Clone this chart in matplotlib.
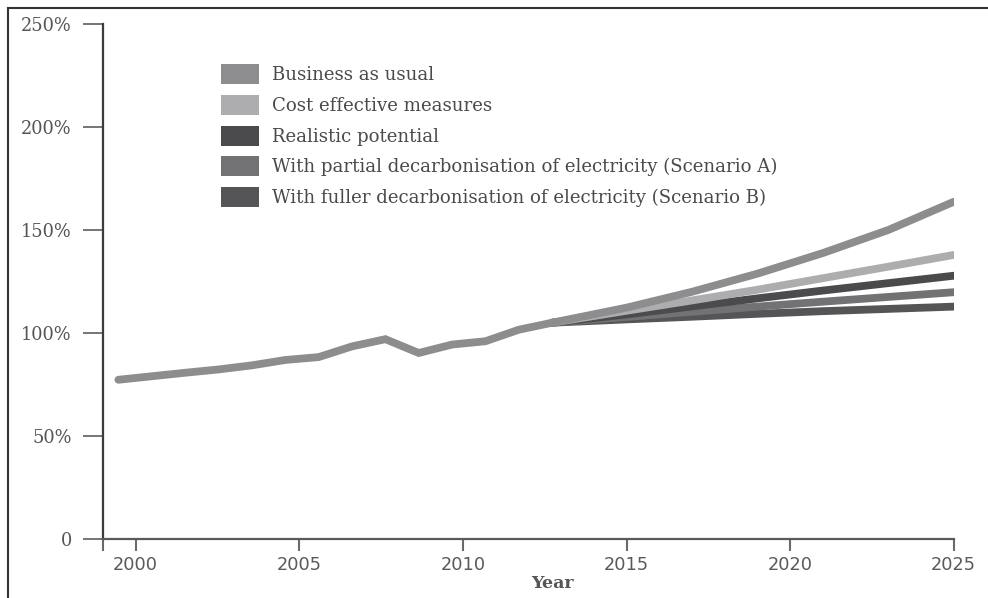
import matplotlib
matplotlib.use("Agg")
import matplotlib.pyplot as plt
from matplotlib.patches import Patch
from matplotlib.lines import Line2D

# ---- data ----
hist_years = [1999.47, 2000.49, 2001.51, 2002.53, 2003.55, 2004.57, 2005.59,
              2006.61, 2007.63, 2008.65, 2009.67, 2010.69, 2011.71, 2012.73]
hist_values = [77.3, 79.0, 80.7, 82.3, 84.3, 86.9, 88.3,
               93.5, 97.0, 90.3, 94.4, 96.0, 101.6, 105.0]

proj_years = [2012.73, 2015, 2017, 2019, 2021, 2023, 2025]
bau = [105.0, 112.3, 120.0, 128.8, 138.8, 150.0, 163.7]
cost_effective = [105.0, 110.8, 115.8, 121.0, 126.6, 132.2, 137.9]
realistic = [105.0, 109.0, 112.9, 116.8, 120.6, 124.2, 127.8]
partial = [105.0, 107.8, 110.3, 112.8, 115.2, 117.5, 119.8]
fuller = [105.0, 106.6, 107.9, 109.3, 110.6, 111.7, 112.8]

series_labels = ["Business as usual",
                 "Cost effective measures",
                 "Realistic potential",
                 "With partial decarbonisation of electricity (Scenario A)",
                 "With fuller decarbonisation of electricity (Scenario B)"]
series_colors = ["#8d8d8f", "#adadaf", "#4b4b4d", "#727274", "#555557"]

y_ticks = [0, 50, 100, 150, 200, 250]
y_ticklabels = ["0", "50%", "100%", "150%", "200%", "250%"]
x_ticks = [2000, 2005, 2010, 2015, 2020, 2025]
x_ticklabels = ["2000", "2005", "2010", "2015", "2020", "2025"]

# ---- figure ----
fig = plt.figure(figsize=(9.88, 5.98), dpi=100)
ax = fig.add_axes([103 / 988, 1 - 539 / 598, (953.7 - 103) / 988, (539 - 24) / 598])

lw = 5.6
proj_series = [bau, cost_effective, realistic, partial, fuller]
order = [4, 3, 2, 1, 0]
for i in order:
    ax.plot(proj_years, proj_series[i], color=series_colors[i], lw=lw,
            solid_capstyle="round", solid_joinstyle="round", zorder=2 + (4 - i))
ax.plot(hist_years, hist_values, color=series_colors[0], lw=lw,
        solid_capstyle="round", solid_joinstyle="miter", zorder=10)

ax.set_xlim(1999, 2025)
ax.set_ylim(0, 250)

for s in ["top", "right"]:
    ax.spines[s].set_visible(False)
for s in ["left", "bottom"]:
    ax.spines[s].set_color("#5a5a5c")
    ax.spines[s].set_linewidth(1.6)
ax.spines["left"].set_color("#3c3c3e")

ax.set_yticks(y_ticks)
ax.set_yticklabels(y_ticklabels, family="DejaVu Serif", fontsize=12.8, color="#555557")
ax.set_xticks(x_ticks)
ax.set_xticklabels(x_ticklabels, family="DejaVu Sans", fontsize=12.8, color="#5a5a5c")
ax.set_xticks([1999], minor=True)
ax.tick_params(axis="y", length=14.4, width=1.3, color="#6a6a6c", pad=8)
ax.tick_params(axis="x", which="both", length=8.6, width=1.5, color="#6a6a6c", pad=3.5)

ax.set_xlabel("Year", family="DejaVu Serif", fontweight="bold", fontsize=12.5,
              color="#555557")
ax.xaxis.set_label_coords((552 - 103) / 850.7, -44 / 515)
ax.xaxis.label.set_va("center")

handles = [Patch(facecolor=c, edgecolor="none") for c in series_colors]
leg = ax.legend(handles, series_labels, loc="upper left",
                bbox_to_anchor=((214 - 103) / 850.7, 1 - (57 - 24) / 515),
                frameon=False, prop={"family": "DejaVu Serif", "size": 13.1},
                handlelength=2.1, handleheight=1.32, handletextpad=0.7,
                labelspacing=0.58, borderaxespad=0)
for t in leg.get_texts():
    t.set_color("#4a4a4c")

# partial frame (top and left)
fig.add_artist(Line2D([8 / 988, 1.0], [1 - 8 / 598, 1 - 8 / 598], color="#333335", lw=1.5))
fig.add_artist(Line2D([8 / 988, 8 / 988], [0, 1 - 8 / 598], color="#333335", lw=1.5))

fig.savefig("out.png", dpi=100)
